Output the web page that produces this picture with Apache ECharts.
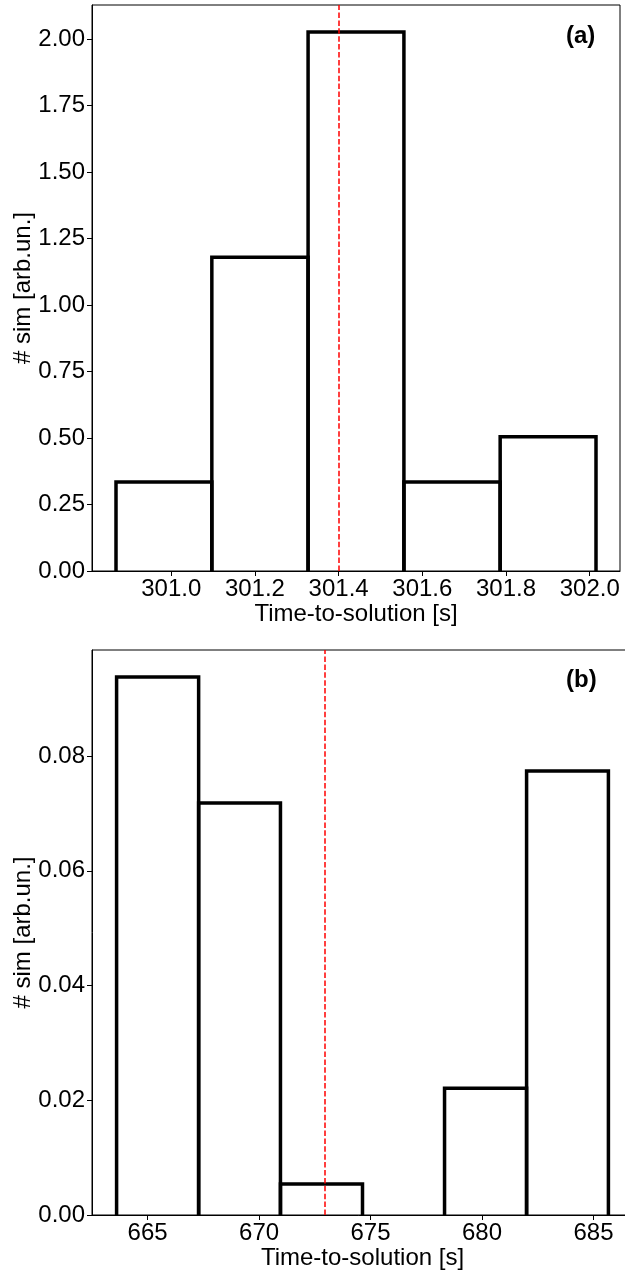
<!DOCTYPE html>
<html>
<head>
<meta charset="utf-8">
<script src="https://cdn.jsdelivr.net/npm/echarts@6/dist/echarts.min.js"></script>
<style>
  html, body { margin: 0; padding: 0; background: #fff; }
  #chart { width: 625px; height: 1273px; }
</style>
</head>
<body>
<div id="chart"></div>
<script>
// ---------- Data ----------
// Panel (a): histogram of time-to-solution (density)
const binEdgesA = [300.868, 301.097, 301.327, 301.556, 301.786, 302.015];
const densityA  = [0.335, 1.180, 2.027, 0.335, 0.505];
const meanA = 301.40;
const xTicksA = [301.0, 301.2, 301.4, 301.6, 301.8, 302.0];
const yTicksA = [0, 0.25, 0.5, 0.75, 1.0, 1.25, 1.5, 1.75, 2.0];

// Panel (b)
const binEdgesB = [663.61, 667.29, 670.96, 674.64, 678.32, 682.00, 685.67];
const densityB  = [0.0938, 0.0718, 0.0054, 0, 0.0221, 0.0774];
const meanB = 672.95;
const xTicksB = [665, 670, 675, 680, 685];
const yTicksB = [0, 0.02, 0.04, 0.06, 0.08];

const xLabel = 'Time-to-solution [s]';
const yLabel = '# sim [arb.un.]';
const panelLabels = ['(a)', '(b)'];

// ---------- Build ----------
const FONT = '"Liberation Sans", Arial, Helvetica, sans-serif';
const FS = 24;

function binData(edges, vals) {
  return vals.map((v, i) => [edges[i], edges[i + 1], v]);
}
function pad(edges) {
  const lo = edges[0], hi = edges[edges.length - 1], m = (hi - lo) * 0.05;
  return [lo - m, hi + m];
}

const [xMinA, xMaxA] = pad(binEdgesA);
const [xMinB, xMaxB] = pad(binEdgesB);
const yMaxA = Math.max(...densityA) * 1.05;
const yMaxB = Math.max(...densityB) * 1.05;

function renderBar(params, api) {
  const h = api.value(2);
  if (!h) return null;
  const p0 = api.coord([api.value(0), 0]);
  const p1 = api.coord([api.value(1), h]);
  return {
    type: 'polyline',
    shape: { points: [[p0[0], p0[1]], [p0[0], p1[1]], [p1[0], p1[1]], [p1[0], p0[1]]] },
    style: { stroke: '#000', lineWidth: 3.5, fill: null, lineJoin: 'miter' }
  };
}

function xAxisCfg(idx, min, max, ticks, dec) {
  return {
    type: 'value', gridIndex: idx, min: min, max: max,
    name: xLabel, nameLocation: 'middle', nameGap: 31, nameMoveOverlap: false,
    nameTextStyle: { fontFamily: FONT, fontSize: FS, color: '#000' },
    axisLine: { show: true, onZero: false, lineStyle: { color: '#000', width: 1 } },
    axisTick: { show: true, length: 5, lineStyle: { color: '#000', width: 1 }, customValues: ticks },
    axisLabel: { fontFamily: FONT, fontSize: FS, color: '#000', margin: 6,
      customValues: ticks, formatter: v => v.toFixed(dec) },
    splitLine: { show: false }
  };
}
function yAxisCfg(idx, max, ticks, dec) {
  return {
    type: 'value', gridIndex: idx, min: 0, max: max,
    name: yLabel, nameLocation: 'middle', nameGap: 57, nameRotate: 90, nameMoveOverlap: false,
    nameTextStyle: { fontFamily: FONT, fontSize: FS, color: '#000' },
    axisLine: { show: true, lineStyle: { color: '#000', width: 1 } },
    axisTick: { show: true, length: 5, lineStyle: { color: '#000', width: 1 }, customValues: ticks },
    axisLabel: { fontFamily: FONT, fontSize: FS, color: '#000', margin: 7,
      customValues: ticks, formatter: v => v.toFixed(dec) },
    splitLine: { show: false }
  };
}
function meanLine(x) {
  return {
    silent: true, symbol: 'none', animation: false,
    label: { show: false },
    lineStyle: { color: '#ff0000', width: 1.5, type: [5.5, 2.4] },
    data: [{ xAxis: x }]
  };
}

const chart = echarts.init(document.getElementById('chart'), null, { renderer: 'canvas' });
chart.setOption({
  animation: false,
  backgroundColor: '#fff',
  grid: [
    { left: 92, top: 5, width: 528, height: 566, containLabel: false, outerBoundsMode: 'none',
      show: true, borderColor: '#000', borderWidth: 1, backgroundColor: 'transparent' },
    { left: 92, top: 650, width: 541, height: 565, containLabel: false, outerBoundsMode: 'none',
      show: true, borderColor: '#000', borderWidth: 1, backgroundColor: 'transparent' }
  ],
  xAxis: [
    xAxisCfg(0, xMinA, xMaxA, xTicksA, 1),
    xAxisCfg(1, xMinB, xMaxB, xTicksB, 0)
  ],
  yAxis: [
    yAxisCfg(0, yMaxA, yTicksA, 2),
    yAxisCfg(1, yMaxB, yTicksB, 2)
  ],
  series: [
    { type: 'custom', xAxisIndex: 0, yAxisIndex: 0, renderItem: renderBar,
      encode: { x: [0, 1], y: 2 }, data: binData(binEdgesA, densityA), markLine: meanLine(meanA), z: 2 },
    { type: 'custom', xAxisIndex: 1, yAxisIndex: 1, renderItem: renderBar,
      encode: { x: [0, 1], y: 2 }, data: binData(binEdgesB, densityB), markLine: meanLine(meanB), z: 2 }
  ],
  graphic: [
    { type: 'text', left: 566, top: 24, style: { text: panelLabels[0], font: 'bold 24px ' + FONT, fill: '#000' } },
    { type: 'text', left: 566, top: 668, style: { text: panelLabels[1], font: 'bold 24px ' + FONT, fill: '#000' } }
  ]
});
</script>
</body>
</html>
